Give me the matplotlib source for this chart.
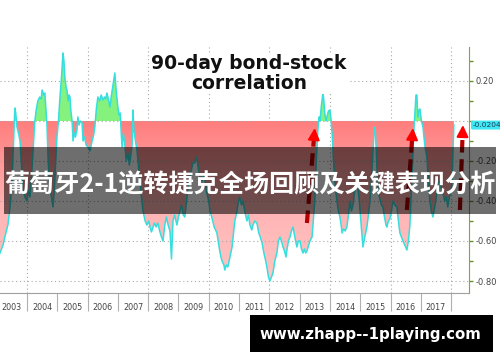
import numpy as np
import matplotlib
matplotlib.use("Agg")
import matplotlib.pyplot as plt
from matplotlib.path import Path
from matplotlib.colors import LinearSegmentedColormap
from matplotlib.patches import Rectangle
from matplotlib.ticker import MultipleLocator, FixedLocator, NullFormatter

# ------------------------------------------------------------------
# data (decimal year, correlation)
# ------------------------------------------------------------------
years = [
    2003.11, 2003.16, 2003.21, 2003.27, 2003.32, 2003.37, 2003.42, 2003.47, 2003.52, 2003.56,
    2003.60, 2003.63, 2003.67, 2003.72, 2003.77, 2003.82, 2003.87, 2003.93, 2004.00, 2004.05,
    2004.10, 2004.15, 2004.20, 2004.26, 2004.31, 2004.36, 2004.42, 2004.47, 2004.50, 2004.55,
    2004.59, 2004.63, 2004.66, 2004.70, 2004.76, 2004.81, 2004.86, 2004.90, 2004.95, 2004.99,
    2005.04, 2005.09, 2005.14, 2005.19, 2005.22, 2005.25, 2005.29, 2005.32, 2005.36, 2005.39,
    2005.42, 2005.45, 2005.49, 2005.52, 2005.56, 2005.60, 2005.65, 2005.68, 2005.72, 2005.76,
    2005.82, 2005.85, 2005.90, 2005.95, 2006.01, 2006.08, 2006.15, 2006.20, 2006.24, 2006.29,
    2006.34, 2006.40, 2006.45, 2006.51, 2006.56, 2006.60, 2006.64, 2006.70, 2006.74, 2006.78,
    2006.84, 2006.90, 2006.94, 2007.00, 2007.04, 2007.08, 2007.11, 2007.14, 2007.18, 2007.23,
    2007.28, 2007.33, 2007.38, 2007.42, 2007.47, 2007.50, 2007.53, 2007.58, 2007.63, 2007.68,
    2007.73, 2007.78, 2007.83, 2007.90, 2007.96, 2008.02, 2008.06, 2008.11, 2008.16, 2008.21,
    2008.26, 2008.32, 2008.38, 2008.44, 2008.49, 2008.55, 2008.60, 2008.66, 2008.72, 2008.77,
    2008.82, 2008.87, 2008.92, 2008.95, 2009.00, 2009.05, 2009.10, 2009.16, 2009.21, 2009.28,
    2009.35, 2009.42, 2009.48, 2009.54, 2009.60, 2009.66, 2009.71, 2009.78, 2009.85, 2009.92,
    2010.00, 2010.04, 2010.10, 2010.18, 2010.27, 2010.33, 2010.40, 2010.44, 2010.50, 2010.53,
    2010.58, 2010.63, 2010.70, 2010.77, 2010.82, 2010.86, 2010.92, 2010.96, 2011.02, 2011.08,
    2011.13, 2011.20, 2011.26, 2011.31, 2011.36, 2011.42, 2011.46, 2011.52, 2011.59, 2011.65,
    2011.70, 2011.76, 2011.82, 2011.88, 2011.92, 2011.97, 2012.02, 2012.07, 2012.12, 2012.18,
    2012.25, 2012.30, 2012.35, 2012.40, 2012.45, 2012.50, 2012.55, 2012.58, 2012.63, 2012.68,
    2012.73, 2012.78, 2012.84, 2012.91, 2012.96, 2013.01, 2013.06, 2013.11, 2013.16, 2013.20,
    2013.24, 2013.30, 2013.34, 2013.41, 2013.45, 2013.50, 2013.55, 2013.60, 2013.64, 2013.67,
    2013.72, 2013.77, 2013.80, 2013.83, 2013.87, 2013.90, 2013.95, 2014.00, 2014.04, 2014.07,
    2014.12, 2014.17, 2014.23, 2014.28, 2014.33, 2014.37, 2014.40, 2014.45, 2014.50, 2014.56,
    2014.61, 2014.66, 2014.71, 2014.76, 2014.82, 2014.87, 2014.92, 2014.97, 2015.03, 2015.09,
    2015.15, 2015.22, 2015.27, 2015.32, 2015.37, 2015.42, 2015.46, 2015.49, 2015.53, 2015.58,
    2015.63, 2015.70, 2015.75, 2015.80, 2015.85, 2015.88, 2015.93, 2015.98, 2016.03, 2016.08,
    2016.14, 2016.21, 2016.26, 2016.31, 2016.36, 2016.41, 2016.47, 2016.54, 2016.59, 2016.64,
    2016.70, 2016.74, 2016.78, 2016.81, 2016.84, 2016.87, 2016.90, 2016.94, 2016.97, 2017.02,
    2017.07, 2017.13, 2017.20, 2017.25, 2017.30, 2017.35, 2017.40, 2017.46, 2017.51, 2017.56,
    2017.62, 2017.68, 2017.73, 2017.79, 2017.84, 2017.89, 2017.94, 2018.00, 2018.03, 2018.06,
    2018.09,
]
corr = [
    -0.66, -0.64, -0.62, -0.58, -0.55, -0.52, -0.46, -0.38, -0.25, -0.10,
    0.065, 0.04, -0.03, -0.06, -0.10, -0.22, -0.33, -0.38, -0.40, -0.35,
    -0.38, -0.28, -0.15, 0.00, 0.06, 0.10, 0.12, 0.11, 0.155, 0.13,
    0.14, 0.05, -0.02, -0.20, -0.33, -0.38, -0.43, -0.35, -0.20, -0.08,
    0.00, 0.12, 0.22, 0.34, 0.30, 0.22, 0.17, 0.155, 0.10, 0.13,
    0.12, 0.05, 0.00, -0.10, -0.06, -0.08, -0.045, 0.02, -0.02, 0.00,
    -0.01, -0.10, -0.08, -0.12, -0.13, -0.15, -0.10, -0.07, -0.03, 0.06,
    0.12, 0.10, 0.13, 0.105, 0.12, 0.11, 0.14, 0.10, 0.07, 0.12,
    0.18, 0.24, 0.16, 0.07, 0.03, 0.04, -0.06, -0.13, -0.06, -0.12,
    -0.20, -0.16, -0.22, -0.18, -0.12, 0.055, -0.05, -0.10, -0.145, -0.22,
    -0.30, -0.38, -0.45, -0.50, -0.52, -0.50, -0.53, -0.555, -0.53, -0.51,
    -0.53, -0.51, -0.55, -0.58, -0.60, -0.52, -0.48, -0.52, -0.55, -0.69,
    -0.50, -0.47, -0.50, -0.52, -0.48, -0.45, -0.42, -0.47, -0.48, -0.38,
    -0.30, -0.25, -0.21, -0.21, -0.18, -0.24, -0.28, -0.30, -0.26, -0.35,
    -0.40, -0.45, -0.48, -0.53, -0.56, -0.62, -0.68, -0.70, -0.72, -0.745,
    -0.72, -0.73, -0.68, -0.63, -0.56, -0.50, -0.46, -0.42, -0.38, -0.42,
    -0.40, -0.46, -0.50, -0.47, -0.52, -0.545, -0.52, -0.50, -0.51, -0.56,
    -0.58, -0.61, -0.66, -0.70, -0.73, -0.78, -0.80, -0.78, -0.76, -0.70,
    -0.66, -0.60, -0.58, -0.60, -0.63, -0.65, -0.68, -0.645, -0.60, -0.58,
    -0.55, -0.53, -0.58, -0.63, -0.60, -0.60, -0.64, -0.66, -0.64, -0.66,
    -0.65, -0.62, -0.60, -0.58, -0.50, -0.40, -0.20, -0.05, 0.02, 0.00,
    0.08, 0.14, 0.10, 0.04, 0.00, 0.02, 0.05, 0.055, 0.00, -0.06,
    -0.20, -0.32, -0.40, -0.45, -0.48, -0.52, -0.56, -0.54, -0.55, -0.53,
    -0.47, -0.40, -0.45, -0.42, -0.35, -0.30, -0.33, -0.40, -0.52, -0.63,
    -0.58, -0.53, -0.47, -0.40, -0.30, -0.15, -0.05, -0.03, -0.15, -0.33,
    -0.38, -0.42, -0.43, -0.48, -0.52, -0.53, -0.50, -0.49, -0.45, -0.40,
    -0.42, -0.43, -0.50, -0.56, -0.58, -0.60, -0.62, -0.645, -0.60, -0.52,
    -0.30, -0.145, -0.02, 0.05, 0.13, 0.13, 0.02, 0.055, 0.06, 0.00,
    -0.03, -0.12, -0.18, -0.30, -0.40, -0.45, -0.48, -0.43, -0.38, -0.31,
    -0.30, -0.34, -0.36, -0.40, -0.38, -0.43, -0.38, -0.35, -0.30, -0.16,
    -0.0204,
]
last_value = -0.0204
year_labels = [str(y) for y in range(2003, 2018)]

# dashed red arrows: (tail year, tail value, tip year, tip value)
arrows = [
    (2013.24, -0.51, 2013.50, -0.035),
    (2016.54, -0.445, 2016.74, -0.035),
    (2018.29, -0.445, 2018.39, -0.020),
]

title = "90-day bond-stock\ncorrelation"
banner = "葡萄牙2-1逆转捷克全场回顾及关键表现分析"
site = "www.zhapp--1playing.com"

x = np.array(years)
y = np.array(corr)

fig = plt.figure(figsize=(5, 3.62), dpi=100)
ax = fig.add_axes([0.0, 0.1906, 0.938, 0.6796])
ax.set_xlim(2003.11, 2018.59)
ax.set_ylim(-0.86, 0.37)

# grid
ax.grid(axis="y", which="major", color="#a8a8a8", linestyle=(0, (1, 2.5)), lw=0.8, zorder=0)
for gy in range(2004, 2019, 2):
    ax.axvline(gy, color="#a8a8a8", linestyle=(0, (1, 2.5)), lw=0.8, zorder=0)

# red area (gradient) below zero
red = ax.fill_between(x, y, 0, where=y < 0, interpolate=True, facecolor="none", edgecolor="none")
red_path = Path.make_compound_path(*red.get_paths())
cmap_r = LinearSegmentedColormap.from_list("r", ["#ffc6c6", "#ffb4b4", "#ff7d7d"])
grad = np.linspace(0, 1, 256).reshape(-1, 1)
im = ax.imshow(grad, cmap=cmap_r, origin="lower", aspect="auto",
               extent=(2003.11, 2018.59, -0.86, 0.0), zorder=1)
im.set_clip_path(red_path, transform=ax.transData)

# green area above zero
ax.fill_between(x, y, 0, where=y > 0, interpolate=True, facecolor="#84f27c",
                edgecolor="none", zorder=1)

ax.plot(x, y, color="#36dede", lw=1.1, zorder=3)

# arrows
for tx, tv, hx, hv in arrows:
    sx = hx - (hx - tx) * 0.12
    sv = hv - (hv - tv) * 0.12
    ax.plot([tx, sx], [tv, sv], color="#b40000", lw=3, dashes=(3, 1.6),
            solid_capstyle="butt", zorder=4)
    ax.annotate("", xy=(hx, hv), xytext=(sx, sv),
                arrowprops=dict(arrowstyle="-|>,head_length=0.7,head_width=0.35",
                                color="#ff0000", lw=1.5, shrinkA=0, shrinkB=0), zorder=5)

# axes styling
for side in ("top", "left"):
    ax.spines[side].set_visible(False)
ax.spines["right"].set_color("#8aa04a")
ax.spines["bottom"].set_color("#a0a0a0")

ax.yaxis.tick_right()
ax.yaxis.set_major_locator(MultipleLocator(0.2))
ax.yaxis.set_minor_locator(MultipleLocator(0.1))
ax.yaxis.set_major_formatter(lambda v, p: "" if abs(v) < 1e-9 else f"{v:.2f}")
ax.tick_params(axis="y", which="both", colors="#6f8f2f", labelcolor="#444444",
               labelsize=6, length=3, width=1, pad=1.5)

ax.xaxis.set_major_locator(FixedLocator(range(2003, 2019)))
ax.xaxis.set_major_formatter(NullFormatter())
ax.xaxis.set_minor_locator(FixedLocator([yr + 0.5 for yr in range(2003, 2018)]))
ax.xaxis.set_minor_formatter(lambda v, p: year_labels[int(v) - 2003] if 0 <= int(v) - 2003 < len(year_labels) else "")
ax.tick_params(axis="x", which="major", length=13, color="#b0b0b0", width=0.8)
ax.tick_params(axis="x", which="minor", length=0, labelsize=5.8, labelcolor="#444444", pad=7)

# last value tag
ax.annotate(f"{last_value:.4f}", xy=(1, last_value), xycoords=("axes fraction", "data"),
            xytext=(2.5, 0), textcoords="offset points", va="center", ha="left",
            fontsize=5.3, color="#1a3a5a",
            bbox=dict(boxstyle="round,pad=0.2", fc="#3ee8f2", ec="none"),
            annotation_clip=False, zorder=6)

# title
fig.text(0.498, 0.797, title, ha="center", va="center", fontsize=13.5,
         fontweight="bold", color="#111111", linespacing=1.05,
         bbox=dict(fc="white", ec="none", pad=1))

# watermark banner
fig.patches.append(Rectangle((0.008, 0.4088), 0.984, 0.185, transform=fig.transFigure,
                             facecolor="black", alpha=0.57, edgecolor="none", zorder=10))
fig.text(0.5, 0.489, banner, ha="center", va="center", fontsize=18.1, fontweight="bold",
         color="white", family=["Noto Sans CJK SC", "DejaVu Sans"], zorder=11)

# site box
fig.patches.append(Rectangle((0.5, 0.0276), 0.486, 0.102, transform=fig.transFigure,
                             facecolor="black", edgecolor="none", zorder=10))
fig.text(0.741, 0.0773, site, ha="center", va="center", fontsize=10.8, fontweight="bold",
         color="white", zorder=11)

fig.savefig("out.png", dpi=100)
